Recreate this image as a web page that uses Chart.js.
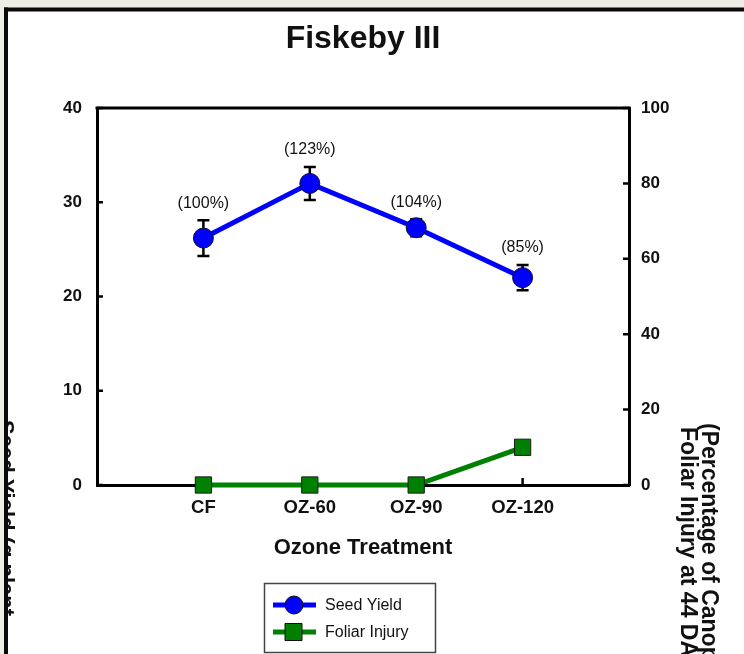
<!DOCTYPE html>
<html>
<head>
<meta charset="utf-8">
<title>Fiskeby III</title>
<script src="https://cdn.jsdelivr.net/npm/chart.js@4.4.1/dist/chart.umd.min.js"></script>
<style>
  html, body { margin: 0; padding: 0; background: #efeee6; }
  #wrap { width: 744px; height: 654px; }
</style>
</head>
<body>
<div id="wrap"><canvas id="chart" width="744" height="654"></canvas></div>
<script>
// Données
const traitements = ['CF', 'OZ-60', 'OZ-90', 'OZ-120'];
const positions = [1, 2, 3, 4];
const rendement = [26.2, 32.0, 27.3, 22.0];      // Seed Yield (g / plant)
const rendementErr = [1.9, 1.75, 0.9, 1.35];
const pourcentages = ['(100%)', '(123%)', '(104%)', '(85%)'];
const lesions = [0, 0, 0, 10];                   // Foliar Injury (%)
const ticksGauche = [0, 10, 20, 30, 40];
const ticksDroite = [0, 20, 40, 60, 80, 100];

const POLICE = '"Liberation Sans", Arial, Helvetica, sans-serif';
const BLEU = '#0000ff';
const VERT = '#008000';

// Fonction pour dessiner le cadre, les barres d'erreur, les textes et la légende
const decor = {
    id: 'decor',
    beforeDraw(chart) {
        const ctx = chart.ctx;
        ctx.save();
        ctx.fillStyle = '#efeee6';
        ctx.fillRect(0, 0, chart.width, chart.height);
        ctx.fillStyle = '#ffffff';
        ctx.fillRect(8, 11.5, chart.width - 8, chart.height - 11.5);
        ctx.restore();
    },
    beforeDatasetsDraw(chart) {
        const ctx = chart.ctx;
        const xs = chart.scales.x, ys = chart.scales.y, ys1 = chart.scales.y1;
        const a = chart.chartArea;
        ctx.save();
        ctx.strokeStyle = '#000';

        // Ligne du haut du cadre
        ctx.lineWidth = 3;
        ctx.beginPath();
        ctx.moveTo(a.left - 1.5, a.top);
        ctx.lineTo(a.right + 1.5, a.top);
        ctx.stroke();

        // Graduations vers l'intérieur
        ctx.lineWidth = 2.5;
        ctx.beginPath();
        positions.forEach(v => {
            const x = xs.getPixelForValue(v);
            ctx.moveTo(x, a.bottom);
            ctx.lineTo(x, a.bottom - 7);
        });
        ticksGauche.forEach(v => {
            const y = ys.getPixelForValue(v);
            ctx.moveTo(a.left, y);
            ctx.lineTo(a.left + 6, y);
        });
        ticksDroite.forEach(v => {
            const y = ys1.getPixelForValue(v);
            ctx.moveTo(a.right, y);
            ctx.lineTo(a.right - 6, y);
        });
        ctx.stroke();

        // Barres d'erreur (derrière les points)
        ctx.lineWidth = 2.5;
        positions.forEach((p, i) => {
            const x = xs.getPixelForValue(p);
            const yHaut = ys.getPixelForValue(rendement[i] + rendementErr[i]);
            const yBas = ys.getPixelForValue(rendement[i] - rendementErr[i]);
            ctx.beginPath();
            ctx.moveTo(x, yHaut); ctx.lineTo(x, yBas);
            ctx.moveTo(x - 6, yHaut); ctx.lineTo(x + 6, yHaut);
            ctx.moveTo(x - 6, yBas); ctx.lineTo(x + 6, yBas);
            ctx.stroke();
        });
        ctx.restore();
    },
    afterDraw(chart) {
        const ctx = chart.ctx;
        const xs = chart.scales.x, ys = chart.scales.y;
        const a = chart.chartArea;
        const milieu = (a.left + a.right) / 2;
        ctx.save();
        ctx.fillStyle = '#111';
        ctx.textAlign = 'center';
        ctx.textBaseline = 'middle';

        // Pourcentages au-dessus des barres d'erreur
        ctx.font = '16px ' + POLICE;
        positions.forEach((p, i) => {
            const x = xs.getPixelForValue(p);
            const y = ys.getPixelForValue(rendement[i] + rendementErr[i]) - 17;
            ctx.fillText(pourcentages[i], x, y);
        });

        // Titre
        ctx.font = 'bold 32px ' + POLICE;
        ctx.fillText('Fiskeby III', milieu, 39);

        // Titre de l'axe X
        ctx.font = 'bold 22px ' + POLICE;
        ctx.fillText('Ozone Treatment', milieu, 548);

        // Titres verticaux (coupés par le bord de l'image)
        ctx.save();
        ctx.beginPath();
        ctx.rect(8, 11.5, chart.width - 8, chart.height - 11.5);
        ctx.clip();
        ctx.textAlign = 'left';
        ctx.textBaseline = 'alphabetic';
        const vertical = (texte, x, y) => {
            ctx.save();
            ctx.translate(x, y);
            ctx.rotate(Math.PI / 2);
            ctx.fillText(texte, 0, 0);
            ctx.restore();
        };
        ctx.font = 'bold 22px ' + POLICE;
        vertical('Seed Yield (g plant', -1, 420);
        ctx.font = 'bold 23px ' + POLICE;
        vertical('Foliar Injury at 44 DAE', 681, 427);
        vertical('(Percentage of Canopy)', 702, 423);
        ctx.restore();

        // Légende
        ctx.strokeStyle = '#444';
        ctx.lineWidth = 1.5;
        ctx.strokeRect(264.5, 583.5, 171, 69);
        const items = [
            { texte: 'Seed Yield', couleur: BLEU, y: 605, forme: 'rond' },
            { texte: 'Foliar Injury', couleur: VERT, y: 632, forme: 'carre' }
        ];
        items.forEach(it => {
            ctx.strokeStyle = it.couleur;
            ctx.lineWidth = 5;
            ctx.beginPath();
            ctx.moveTo(273, it.y);
            ctx.lineTo(316, it.y);
            ctx.stroke();
            ctx.fillStyle = it.couleur;
            ctx.strokeStyle = '#111';
            ctx.lineWidth = 1;
            ctx.beginPath();
            if (it.forme === 'rond') {
                ctx.arc(294, it.y, 9, 0, Math.PI * 2);
            } else {
                ctx.rect(285, it.y - 8.5, 17, 17);
            }
            ctx.fill();
            ctx.stroke();
            ctx.fillStyle = '#111';
            ctx.textAlign = 'left';
            ctx.textBaseline = 'middle';
            ctx.font = '16px ' + POLICE;
            ctx.fillText(it.texte, 325, it.y + 1);
        });

        // Cadre noir de la figure
        ctx.fillStyle = '#0a0a0a';
        ctx.fillRect(4, 7.5, chart.width - 4, 4);
        ctx.fillRect(4, 7.5, 4, chart.height - 7.5);
        ctx.restore();
    }
};

const tickFont = { family: POLICE, size: 17, weight: 'bold' };

new Chart(document.getElementById('chart'), {
    type: 'line',
    data: {
        datasets: [{
            label: 'Seed Yield',
            data: positions.map((p, i) => ({ x: p, y: rendement[i] })),
            yAxisID: 'y',
            borderColor: BLEU,
            borderWidth: 5,
            pointRadius: 10,
            pointBackgroundColor: BLEU,
            pointBorderColor: '#101030',
            pointBorderWidth: 1,
            tension: 0,
            clip: false
        }, {
            label: 'Foliar Injury',
            data: positions.map((p, i) => ({ x: p, y: lesions[i] })),
            yAxisID: 'y1',
            borderColor: VERT,
            borderWidth: 5,
            pointStyle: 'rect',
            pointRadius: 11.5,
            pointBackgroundColor: VERT,
            pointBorderColor: '#1a1a1a',
            pointBorderWidth: 1,
            tension: 0,
            clip: false
        }]
    },
    options: {
        responsive: false,
        animation: false,
        layout: { padding: { left: 0, right: 0, top: 108, bottom: 0 } },
        plugins: {
            legend: { display: false },
            title: { display: false },
            tooltip: { enabled: false }
        },
        scales: {
            x: {
                type: 'linear',
                min: 0,
                max: 5,
                afterFit: s => { s.height = 169; },
                afterBuildTicks: s => { s.ticks = positions.map(v => ({ value: v })); },
                grid: { display: false, drawTicks: false },
                border: { display: true, color: '#000', width: 3 },
                ticks: {
                    autoSkip: false,
                    maxRotation: 0,
                    padding: 12,
                    color: '#111',
                    font: { family: POLICE, size: 18.5, weight: 'bold' },
                    callback: v => traitements[positions.indexOf(v)] || ''
                }
            },
            y: {
                position: 'left',
                min: 0,
                max: 40,
                afterFit: s => { s.width = 97; },
                afterBuildTicks: s => { s.ticks = ticksGauche.map(v => ({ value: v })); },
                grid: { display: false, drawTicks: false },
                border: { display: true, color: '#000', width: 3 },
                ticks: { padding: 15, color: '#111', font: tickFont }
            },
            y1: {
                position: 'right',
                min: 0,
                max: 100,
                afterFit: s => { s.width = 115; },
                afterBuildTicks: s => { s.ticks = ticksDroite.map(v => ({ value: v })); },
                grid: { display: false, drawTicks: false },
                border: { display: true, color: '#000', width: 3 },
                ticks: { padding: 12, color: '#111', font: tickFont }
            }
        }
    },
    plugins: [decor]
});
</script>
</body>
</html>
